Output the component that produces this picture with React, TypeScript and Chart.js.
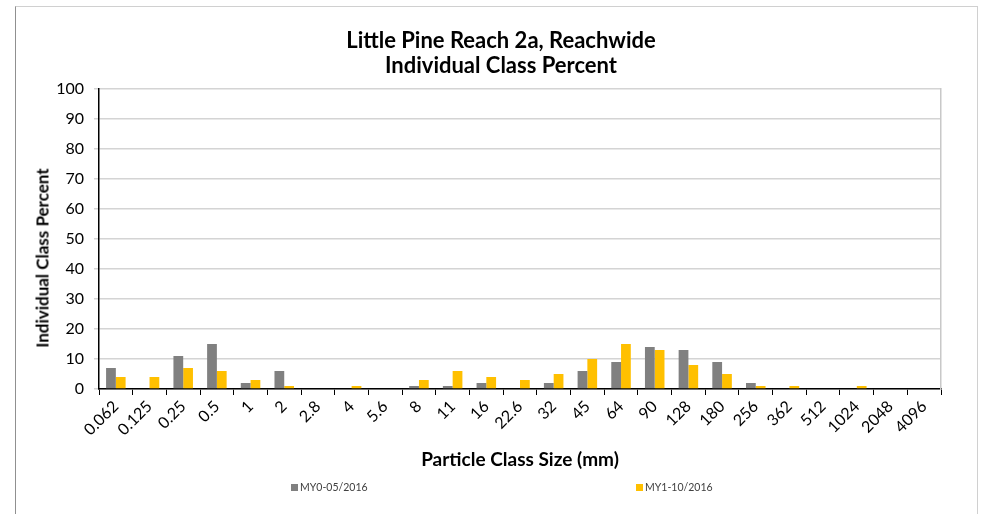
import React, { useEffect, useRef } from "react";
import { Chart, registerables } from "chart.js";

Chart.register(...registerables);

const categories = ["0.062", "0.125", "0.25", "0.5", "1", "2", "2.8", "4", "5.6", "8", "11", "16", "22.6", "32", "45", "64", "90", "128", "180", "256", "362", "512", "1024", "2048", "4096"];
const my0Values = [7, 0, 11, 15, 2, 6, 0, 0, 0, 1, 1, 2, 0, 2, 6, 9, 14, 13, 9, 2, 0, 0, 0, 0, 0];
const my1Values = [4, 4, 7, 6, 3, 1, 0, 1, 0, 3, 6, 4, 3, 5, 10, 15, 13, 8, 5, 1, 1, 0, 1, 0, 0];
const seriesNames = ["MY0-05/2016", "MY1-10/2016"];
const titleLines = ["Little Pine Reach 2a, Reachwide", "Individual Class Percent"];
const xTitle = "Particle Class Size (mm)";
const yTitle = "Individual Class Percent";

const FONT = "Lato, 'Open Sans', sans-serif";
const GRAY = "#808080";
const YELLOW = "#ffc000";

export default function App() {
  const canvasRef = useRef<HTMLCanvasElement | null>(null);

  useEffect(() => {
    if (!canvasRef.current) return;
    const chart = new Chart(canvasRef.current, {
      type: "bar",
      data: {
        labels: categories,
        datasets: [
          { label: seriesNames[0], data: my0Values, backgroundColor: GRAY, categoryPercentage: 0.58, barPercentage: 1 },
          { label: seriesNames[1], data: my1Values, backgroundColor: YELLOW, categoryPercentage: 0.58, barPercentage: 1 },
        ],
      },
      options: {
        responsive: false,
        animation: false,
        layout: { padding: { top: 89, right: 40, bottom: 0, left: 15 } },
        plugins: { legend: { display: false }, title: { display: false }, tooltip: { enabled: false } },
        scales: {
          x: {
            offset: true,
            grid: { offset: true, drawOnChartArea: false, drawTicks: true, tickLength: 6, color: "#000", lineWidth: 1 },
            border: { color: "#000", width: 1.5 },
            ticks: { color: "#000", font: { family: FONT, size: 16 }, maxRotation: 45, minRotation: 45, autoSkip: false, padding: 2 },
            title: { display: true, text: xTitle, color: "#000", font: { family: FONT, size: 19, weight: "bold" }, padding: { top: 0, bottom: 43 } },
            afterFit: (s: any) => { s.height = 125; },
          },
          y: {
            min: 0,
            max: 100,
            ticks: { stepSize: 10, color: "#000", font: { family: FONT, size: 16 }, padding: 10 },
            grid: { color: "#d4d4d4", lineWidth: 1.5, tickLength: 5 },
            border: { color: "#000", width: 1.5 },
            title: { display: false },
            afterFit: (s: any) => { s.width = 84; },
          },
          y2: {
            position: "right",
            min: 0,
            max: 100,
            ticks: { display: false },
            grid: { drawOnChartArea: false, drawTicks: false },
            border: { color: "#c8c8c8", width: 1.5 },
            afterFit: (s: any) => { s.width = 0; },
          },
        },
      },
    });
    return () => chart.destroy();
  }, []);

  const legendItem = (left: number, color: string, text: string) => (
    <div style={{ position: "absolute", left, top: 481, display: "flex", alignItems: "center", fontFamily: FONT, fontSize: 10.5, color: "#404040" }}>
      <span style={{ display: "inline-block", width: 7, height: 7, background: color, marginRight: 2 }} />
      <span>{text}</span>
    </div>
  );

  return (
    <div style={{ position: "absolute", left: 0, top: 0, width: 981, height: 514, overflow: "hidden", background: "#fff" }}>
      <div style={{ position: "absolute", left: 15, top: 6, width: 961, height: 520, border: "1px solid #d0d0d0", borderLeft: "1px solid #909090" }} />
      <canvas ref={canvasRef} width={981} height={514} style={{ position: "absolute", left: 0, top: 0 }} />
      <div style={{ position: "absolute", left: 281, top: 27, width: 440, textAlign: "center", fontFamily: FONT, fontWeight: "bold", fontSize: 22, lineHeight: "25px", color: "#000" }}>
        {titleLines.map((t) => <div key={t}>{t}</div>)}
      </div>
      <div style={{ position: "absolute", left: 42, top: 258, width: 0, height: 0 }}>
        <div style={{ position: "absolute", left: 0, top: 0, transform: "translate(-50%, -50%) rotate(-90deg)", whiteSpace: "nowrap", fontFamily: FONT, fontWeight: "bold", fontSize: 17, color: "#000" }}>{yTitle}</div>
      </div>
      {legendItem(291, GRAY, seriesNames[0])}
      {legendItem(636, YELLOW, seriesNames[1])}
    </div>
  );
}
